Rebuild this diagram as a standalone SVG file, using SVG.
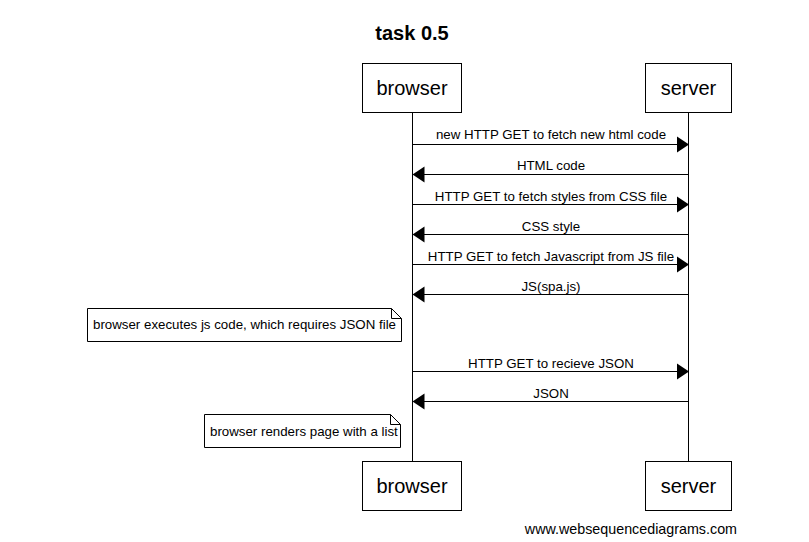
<svg xmlns="http://www.w3.org/2000/svg" width="809" height="542" viewBox="0 0 809 542">
<style>
text{font-family:"Liberation Sans",Arial,sans-serif;fill:#000}
.box{fill:#fff;stroke:#000;stroke-width:1}
.actor{font-size:20px;text-anchor:middle}
.lbl{font-size:13.3px;text-anchor:middle}
.note{font-size:13.3px}
.ln{stroke:#000;stroke-width:1;fill:none}
.ah{fill:#000}
</style>
<rect width="809" height="542" fill="#fff"/>
<text x="412" y="40" font-size="20" font-weight="bold" text-anchor="middle">task 0.5</text>
<g id="lifelines">
<line class="ln" x1="412.5" y1="112" x2="412.5" y2="461"/>
<line class="ln" x1="688.5" y1="112" x2="688.5" y2="461"/>
</g>
<g id="browser-top"><rect class="box" x="362.5" y="63.5" width="99" height="49"/><text class="actor" x="412" y="95">browser</text></g>
<g id="server-top"><rect class="box" x="645.5" y="63.5" width="86" height="49"/><text class="actor" x="688.5" y="95">server</text></g>
<g id="browser-bottom"><rect class="box" x="362.5" y="461.5" width="99" height="49"/><text class="actor" x="412" y="493">browser</text></g>
<g id="server-bottom"><rect class="box" x="645.5" y="461.5" width="86" height="49"/><text class="actor" x="688.5" y="493">server</text></g>
<g id="connectors">
<line class="ln" x1="412.5" y1="144.5" x2="679" y2="144.5"/><polygon class="ah" points="689,144.5 677,136.5 677,152.5"/>
<text class="lbl" x="551" y="138.5">new HTTP GET to fetch new html code</text>
<line class="ln" x1="688.5" y1="174.5" x2="422" y2="174.5"/><polygon class="ah" points="412.5,174.5 424.5,166.5 424.5,182.5"/>
<text class="lbl" x="551" y="169.5">HTML code</text>
<line class="ln" x1="412.5" y1="204.5" x2="679" y2="204.5"/><polygon class="ah" points="689,204.5 677,196.5 677,212.5"/>
<text class="lbl" x="551" y="200.5">HTTP GET to fetch styles from CSS file</text>
<line class="ln" x1="688.5" y1="234.5" x2="422" y2="234.5"/><polygon class="ah" points="412.5,234.5 424.5,226.5 424.5,242.5"/>
<text class="lbl" x="551" y="230.5">CSS style</text>
<line class="ln" x1="412.5" y1="264.5" x2="679" y2="264.5"/><polygon class="ah" points="689,264.5 677,256.5 677,272.5"/>
<text class="lbl" x="551" y="260.5">HTTP GET to fetch Javascript from JS file</text>
<line class="ln" x1="688.5" y1="294.5" x2="422" y2="294.5"/><polygon class="ah" points="412.5,294.5 424.5,286.5 424.5,302.5"/>
<text class="lbl" x="551" y="290.5">JS(spa.js)</text>
<line class="ln" x1="412.5" y1="371.5" x2="679" y2="371.5"/><polygon class="ah" points="689,371.5 677,363.5 677,379.5"/>
<text class="lbl" x="551" y="367.5">HTTP GET to recieve JSON</text>
<line class="ln" x1="688.5" y1="401.5" x2="422" y2="401.5"/><polygon class="ah" points="412.5,401.5 424.5,393.5 424.5,409.5"/>
<text class="lbl" x="551" y="397.5">JSON</text>
</g>
<g id="note1">
<path class="box" d="M87.5,308.5 H391.5 L401.5,318.5 V341.5 H87.5 Z"/>
<path class="ln" d="M391.5,308.5 V318.5 H401.5"/>
<text class="note" x="93" y="329">browser executes js code, which requires JSON file</text>
</g>
<g id="note2">
<path class="box" d="M204.5,414.5 H390.5 L400.5,424.5 V447.5 H204.5 Z"/>
<path class="ln" d="M390.5,414.5 V424.5 H400.5"/>
<text class="note" x="210" y="436">browser renders page with a list</text>
</g>
<text x="737" y="534" font-size="14.3" text-anchor="end">www.websequencediagrams.com</text>
</svg>
